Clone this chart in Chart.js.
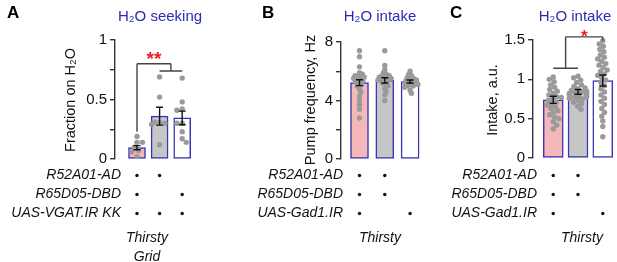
<!DOCTYPE html>
<html><head><meta charset="utf-8">
<script src="https://cdn.jsdelivr.net/npm/chart.js@4"></script>
<style>
html,body{margin:0;padding:0;background:#fff;width:617px;height:262px;overflow:hidden}
canvas{position:absolute;top:0}
</style></head><body>
<canvas id="cA" width="215" height="262" style="left:0px"></canvas>
<canvas id="cB" width="225" height="262" style="left:200px"></canvas>
<canvas id="cC" width="192" height="262" style="left:425px"></canvas>
<script>
// ---------------- DATA ----------------
const groups = ['Control 1', 'Control 2', 'Knockdown'];

// Panel A: H2O seeking (fraction on H2O)
const titleA = 'H\u2082O seeking';
const yTitleA = 'Fraction on H\u2082O';
const genotypesA = ['R52A01-AD', 'R65D05-DBD', 'UAS-VGAT.IR KK'];
const genoMatrixA = [[1, 1, 0], [1, 0, 1], [1, 1, 1]];
const conditionA = ['Thirsty', 'Grid'];
const meansA = [0.095, 0.36, 0.345];
const semA = [0.017, 0.075, 0.057];
const pointsA1 = [0.19, 0.14, 0.14, 0.10, 0.07, 0.06, 0.02];
const pointsA2 = [0.69, 0.52, 0.31, 0.31, 0.30, 0.29, 0.12];
const pointsA3 = [0.68, 0.48, 0.42, 0.41, 0.30, 0.30, 0.23, 0.17, 0.14];
const yTicksA = [0, 0.5, 1];
const sigA = '**';

// Panel B: H2O intake (pump frequency)
const titleB = 'H\u2082O intake';
const yTitleB = 'Pump frequency, Hz';
const genotypesB = ['R52A01-AD', 'R65D05-DBD', 'UAS-Gad1.IR'];
const genoMatrixB = [[1, 1, 0], [1, 1, 0], [1, 0, 1]];
const conditionB = ['Thirsty'];
const meansB = [5.22, 5.38, 5.3];
const semB = [0.2, 0.18, 0.1];
const pointsB1 = [7.4, 7.0, 6.3, 5.9, 5.8, 5.7, 5.7, 5.6, 5.6, 5.5, 5.5, 5.4, 5.4, 5.3, 5.2, 5.1, 5.0, 4.8, 4.6, 4.3, 4.0, 3.7, 3.4, 2.8];
const pointsB2 = [7.4, 6.4, 6.1, 5.9, 5.8, 5.7, 5.7, 5.6, 5.6, 5.5, 5.5, 5.4, 5.4, 5.3, 5.2, 5.1, 5.0, 4.8, 4.6, 4.4, 4.0];
const pointsB3 = [6.0, 5.8, 5.7, 5.6, 5.5, 5.5, 5.4, 5.4, 5.3, 5.3, 5.2, 5.2, 5.1, 5.1, 5.0, 5.0, 4.9, 4.7, 4.5];
const yTicksB = [0, 4, 8];

// Panel C: H2O intake (a.u.)
const titleC = 'H\u2082O intake';
const yTitleC = 'Intake, a.u.';
const genotypesC = ['R52A01-AD', 'R65D05-DBD', 'UAS-Gad1.IR'];
const genoMatrixC = [[1, 1, 0], [1, 1, 0], [1, 0, 1]];
const conditionC = ['Thirsty'];
const meansC = [0.74, 0.84, 0.985];
const semC = [0.045, 0.03, 0.07];
const pointsC1 = [1.03, 1.0, 0.97, 0.93, 0.9, 0.87, 0.85, 0.82, 0.8, 0.78, 0.77, 0.75, 0.73, 0.71, 0.69, 0.67, 0.65, 0.63, 0.6, 0.58, 0.55, 0.52, 0.5, 0.46, 0.42, 0.37];
const pointsC2 = [1.04, 1.02, 0.99, 0.96, 0.93, 0.91, 0.89, 0.88, 0.86, 0.85, 0.84, 0.83, 0.82, 0.81, 0.8, 0.79, 0.78, 0.77, 0.76, 0.75, 0.73, 0.71, 0.69, 0.66, 0.62];
const pointsC3 = [1.49, 1.45, 1.42, 1.38, 1.35, 1.31, 1.28, 1.26, 1.23, 1.2, 1.18, 1.15, 1.12, 1.1, 1.07, 1.05, 1.02, 0.99, 0.96, 0.92, 0.88, 0.84, 0.8, 0.76, 0.72, 0.68, 0.63, 0.58, 0.53, 0.47, 0.4, 0.27];
const yTicksC = [0, 0.5, 1, 1.5];
const sigC = '*';

// ---------------- STYLE ----------------
const FONT = "'Liberation Sans', Arial, sans-serif";
const BAR_FILLS = ['#f5b8b8', '#c6c6c6', '#ffffff'];
const BAR_EDGE = '#3535b5';
const TITLE_COL = '#2b2bb3';
const POINT_COL = '#9a9a9a';
const AXIS_COL = '#333333';
const SIG_COL = '#ee1c25';

// beeswarm layout (horizontal placement only)
function swarm(values, pxPerY, pxPerX, d, maxPx) {
  const idx = values.map((v, i) => i).sort((a, b) => values[b] - values[a]);
  const placed = [];
  const out = new Array(values.length);
  let flip = 1;
  for (const i of idx) {
    const y = values[i] * pxPerY;
    const cands = [0];
    for (const p of placed) {
      const dy = Math.abs(p.y - y);
      if (dy < d) {
        const dx = Math.sqrt(d * d - dy * dy);
        cands.push(p.x + dx + 0.01, p.x - dx - 0.01);
      }
    }
    cands.sort((a, b) => (Math.abs(a) - Math.abs(b)) || (flip * (b - a)));
    flip = -flip;
    let x = 0;
    for (const c of cands) {
      if (placed.every(p => (p.x - c) ** 2 + (p.y - y) ** 2 >= d * d - 0.05)) { x = c; break; }
    }
    x = Math.max(-maxPx, Math.min(maxPx, x));
    placed.push({ x, y });
    out[i] = x / pxPerX;
  }
  return out;
}

function makePanel(cfg) {
  const canvas = document.getElementById(cfg.id);
  const W = canvas.width;
  const axisLocal = cfg.axisX - cfg.left;
  const rightLocal = W - cfg.padRight;
  const col0Local = cfg.col0 - cfg.left;
  const xMin = -(col0Local - axisLocal) / cfg.spacing;
  const xMax = (rightLocal - col0Local) / cfg.spacing;
  const pxPerY = (cfg.bottom - cfg.top) / cfg.yMax;

  const barData = cfg.means.map((m, i) => ({ x: i, y: m }));
  const ptsData = [];
  cfg.points.forEach((arr, g) => {
    const offs = swarm(arr, pxPerY, cfg.spacing, cfg.sep, cfg.maxSpread);
    arr.forEach((v, k) => ptsData.push({ x: g + offs[k], y: v }));
  });

  const overlay = {
    id: 'overlay' + cfg.id,
    afterDatasetsDraw(chart) {
      const ctx = chart.ctx, xs = chart.scales.x, ys = chart.scales.y;
      ctx.save();
      ctx.strokeStyle = '#111';
      ctx.lineWidth = 1.4;
      cfg.means.forEach((m, i) => {
        const cx = xs.getPixelForValue(i);
        const y1 = ys.getPixelForValue(m + cfg.sems[i]);
        const y0 = ys.getPixelForValue(m - cfg.sems[i]);
        ctx.beginPath();
        ctx.moveTo(cx, y0); ctx.lineTo(cx, y1);
        ctx.moveTo(cx - 3.5, y0); ctx.lineTo(cx + 3.5, y0);
        ctx.moveTo(cx - 3.5, y1); ctx.lineTo(cx + 3.5, y1);
        ctx.stroke();
      });
      ctx.restore();
    },
    afterDraw(chart) {
      const ctx = chart.ctx, xs = chart.scales.x, ys = chart.scales.y;
      const L = cfg.left;
      ctx.save();
      // panel letter
      ctx.fillStyle = '#000';
      ctx.font = 'bold 17px ' + FONT;
      ctx.textAlign = 'left'; ctx.textBaseline = 'alphabetic';
      ctx.fillText(cfg.letter, cfg.letterX - L, 18);
      // title
      ctx.fillStyle = TITLE_COL;
      ctx.font = '15px ' + FONT;
      ctx.textAlign = 'center';
      ctx.fillText(cfg.title, cfg.titleX - L, 21);
      // y title
      ctx.fillStyle = '#111';
      ctx.save();
      ctx.translate(cfg.yTitleX - L, cfg.yTitleY);
      ctx.rotate(-Math.PI / 2);
      ctx.textAlign = 'center'; ctx.textBaseline = 'middle';
      ctx.font = '14.5px ' + FONT;
      ctx.fillText(cfg.yTitle, 0, 0);
      ctx.restore();
      // genotype table
      ctx.font = 'italic 14px ' + FONT;
      ctx.textBaseline = 'middle';
      cfg.genotypes.forEach((g, r) => {
        const yy = cfg.rowY[r];
        ctx.fillStyle = '#111';
        ctx.textAlign = 'right';
        ctx.fillText(g, cfg.labelRight - L, yy);
        cfg.matrix[r].forEach((on, c) => {
          if (!on) return;
          ctx.beginPath();
          ctx.arc(xs.getPixelForValue(c), yy + 0.5, 1.7, 0, Math.PI * 2);
          ctx.fill();
        });
      });
      ctx.textAlign = 'center';
      cfg.condition.forEach((t, k) => ctx.fillText(t, cfg.condX - L, cfg.condY[k]));
      // significance bracket
      if (cfg.bracket) {
        ctx.strokeStyle = '#444';
        ctx.lineWidth = 1.4;
        ctx.beginPath();
        cfg.bracket.forEach(seg => {
          ctx.moveTo(xs.getPixelForValue(seg[0][0]), ys.getPixelForValue(seg[0][1]));
          ctx.lineTo(xs.getPixelForValue(seg[1][0]), ys.getPixelForValue(seg[1][1]));
        });
        ctx.stroke();
        ctx.fillStyle = SIG_COL;
        ctx.font = 'bold ' + cfg.sigSize + 'px ' + FONT;
        ctx.textAlign = 'center'; ctx.textBaseline = 'alphabetic';
        ctx.fillText(cfg.sig, xs.getPixelForValue(cfg.sigAt[0]), ys.getPixelForValue(cfg.sigAt[1]) + cfg.sigDy);
      }
      ctx.restore();
    }
  };

  new Chart(canvas, {
    type: 'bar',
    data: {
      datasets: [
        {
          type: 'bar', data: barData, order: 2,
          backgroundColor: BAR_FILLS, borderColor: BAR_EDGE, borderWidth: 1.5,
          barThickness: cfg.barW, borderSkipped: false
        },
        {
          type: 'scatter', data: ptsData, order: 1, clip: false,
          pointRadius: cfg.dot / 2, backgroundColor: POINT_COL, borderWidth: 0, showLine: false
        }
      ]
    },
    options: {
      responsive: false, animation: false, events: [],
      layout: { padding: { left: 0, right: cfg.padRight, top: cfg.top, bottom: 262 - cfg.bottom } },
      plugins: { legend: { display: false }, tooltip: { enabled: false } },
      scales: {
        x: { type: 'linear', display: false, min: xMin, max: xMax, offset: false },
        y: {
          type: 'linear', min: 0, max: cfg.yMax,
          afterFit(scale) { scale.width = axisLocal; },
          afterBuildTicks(scale) {
            const t = [];
            for (let v = 0; v <= cfg.yMax + 1e-9; v += cfg.yStep) t.push({ value: +v.toFixed(4) });
            scale.ticks = t;
          },
          border: { display: true, color: AXIS_COL, width: 1.4 },
          grid: { drawOnChartArea: false, drawTicks: true, tickLength: 5, color: AXIS_COL, tickColor: AXIS_COL, lineWidth: 1.4 },
          ticks: {
            padding: 3, color: '#111', font: { family: FONT, size: 15 },
            callback: (v) => cfg.yTicks.some(t => Math.abs(t - v) < 1e-6) ? String(v) : ''
          }
        }
      }
    },
    plugins: [overlay]
  });
}

makePanel({
  id: 'cA', left: 0, padRight: 19, axisX: 115, col0: 137, spacing: 22.6,
  top: 40, bottom: 159, yMax: 1, yStep: 0.25, yTicks: yTicksA,
  means: meansA, sems: semA, points: [pointsA1, pointsA2, pointsA3], barW: 17, dot: 5.4, sep: 5.4, maxSpread: 8,
  letter: 'A', letterX: 7, title: titleA, titleX: 160, yTitle: yTitleA, yTitleX: 71, yTitleY: 100,
  genotypes: genotypesA, matrix: genoMatrixA, labelRight: 121, rowY: [175, 194, 213],
  condition: conditionA, condX: 147, condY: [238, 257],
  bracket: [[[0, 0.23], [0, 0.80]], [[0, 0.80], [1.5, 0.80]], [[1.5, 0.80], [1.5, 0.74]], [[1, 0.74], [2, 0.74]]],
  sig: sigA, sigSize: 19, sigAt: [0.75, 0.80], sigDy: 1
});

makePanel({
  id: 'cB', left: 200, padRight: 4, axisX: 341, col0: 359.5, spacing: 25.3,
  top: 42, bottom: 159, yMax: 8, yStep: 2, yTicks: yTicksB,
  means: meansB, sems: semB, points: [pointsB1, pointsB2, pointsB3], barW: 18, dot: 5.4, sep: 3.2, maxSpread: 9,
  letter: 'B', letterX: 262, title: titleB, titleX: 380, yTitle: yTitleB, yTitleX: 311, yTitleY: 100,
  genotypes: genotypesB, matrix: genoMatrixB, labelRight: 343, rowY: [175, 194, 213],
  condition: conditionB, condX: 380, condY: [238]
});

makePanel({
  id: 'cC', left: 425, padRight: 1, axisX: 533, col0: 554, spacing: 25.7,
  top: 40, bottom: 158, yMax: 1.5, yStep: 0.5, yTicks: yTicksC,
  means: meansC, sems: semC, points: [pointsC1, pointsC2, pointsC3], barW: 20, dot: 5.4, sep: 4.8, maxSpread: 9,
  letter: 'C', letterX: 450, title: titleC, titleX: 575, yTitle: yTitleC, yTitleX: 493, yTitleY: 100,
  genotypes: genotypesC, matrix: genoMatrixC, labelRight: 537, rowY: [175, 194, 213],
  condition: conditionC, condX: 582, condY: [238],
  bracket: [[[0, 1.14], [1, 1.14]], [[0.5, 1.14], [0.5, 1.54]], [[0.5, 1.54], [2, 1.54]], [[2, 1.54], [2, 1.49]]],
  sig: sigC, sigSize: 17, sigAt: [1.25, 1.54], sigDy: 5
});
</script>
</body></html>
